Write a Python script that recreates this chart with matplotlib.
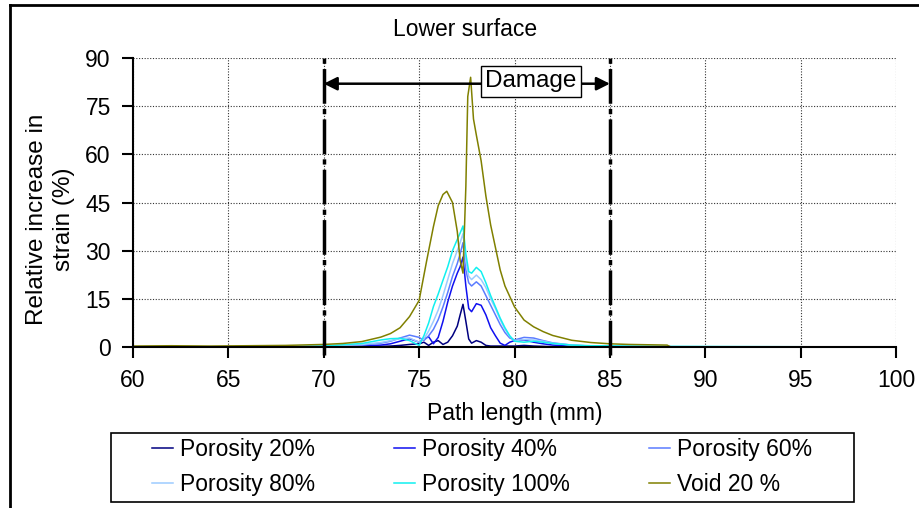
import numpy as np
import matplotlib
matplotlib.use("Agg")
import matplotlib.pyplot as plt
from matplotlib.lines import Line2D
from matplotlib.patches import Rectangle

plt.rcParams['font.family'] = ['Liberation Sans', 'DejaVu Sans']

# path length (mm) for the porosity curves
x_por = [60, 68, 70, 72, 73, 73.5, 74, 74.5, 75, 75.25, 75.5, 75.75, 76, 76.25, 76.5, 76.75,
         77, 77.15, 77.3, 77.45, 77.6, 77.75, 78, 78.25, 78.5, 78.75, 79, 79.25, 79.5, 79.75,
         80, 80.5, 81, 81.5, 82, 83, 84, 86, 88, 100]
por20 = [0, 0, 0, 0.1, 0.2, 0.3, 0.5, 0.8, 1.0, 1.5, 0.5, 1.5, 2.0, 0.8, 1.5, 3.5,
         6.5, 10, 13.3, 8, 2.5, 1.2, 2.0, 1.5, 0.5, 0.3, 0.3, 0.3, 0.3, 0.3,
         0.3, 0.5, 0.3, 0.2, 0.1, 0.1, 0, 0, 0, 0]
por40 = [0, 0, 0.1, 0.3, 0.6, 1.0, 1.8, 2.6, 1.5, 2.5, 3.2, 1.0, 3.0, 8, 14, 19,
         23, 25, 28, 19, 12, 11, 13.5, 13, 10, 6, 3.5, 1.2, 0.5, 1.5,
         2.0, 2.2, 1.5, 1.0, 0.6, 0.3, 0.1, 0, 0, 0]
por60 = [0, 0.1, 0.2, 0.6, 1.2, 1.8, 2.8, 3.7, 3.0, 2.0, 3.5, 5.5, 8.5, 12.5, 17, 22,
         26, 29, 32.5, 24, 20, 19, 20.3, 19, 16, 13, 10, 7, 4.5, 2.8,
         2.2, 3.0, 2.8, 2.0, 1.3, 0.6, 0.3, 0.1, 0, 0]
por80 = [0, 0.1, 0.3, 0.8, 1.4, 2.0, 2.6, 2.8, 1.5, 2.5, 5, 8, 11.5, 16, 21, 26,
         30, 32.5, 35.3, 27, 22, 21, 22.4, 21, 18.5, 15, 12, 8.5, 5.5, 3.3,
         2.0, 2.3, 2.2, 1.8, 1.2, 0.6, 0.3, 0.2, 0.1, 0]
por100 = [0, 0.1, 0.3, 1.1, 2.2, 2.6, 2.7, 2.0, 0.5, 3.5, 7.5, 12.6, 16.5, 20.8, 25, 30,
          33.5, 35.5, 37.7, 29, 23.5, 23, 24.8, 23.5, 20, 16, 12.5, 9, 6, 3.5,
          1.8, 1.5, 1.8, 1.5, 1.1, 0.6, 0.4, 0.3, 0.2, 0]

x_void = [60, 62, 64, 66, 68, 70, 71, 72, 73, 73.5, 74, 74.5, 75, 75.4, 75.75,
          76, 76.25, 76.45, 76.75, 77, 77.15, 77.3, 77.45, 77.55, 77.7, 77.85, 78,
          78.25, 78.5, 78.75, 79, 79.25, 79.5, 80, 80.5, 81, 81.5, 82, 83, 84, 85,
          86, 88, 88.2, 100]
void20 = [0.3, 0.4, 0.3, 0.4, 0.5, 0.8, 1.1, 1.7, 3.1, 4.2, 6.0, 9.5, 14.5, 27, 37.5,
          44, 47.5, 48.5, 45, 36, 27, 23, 50, 78, 84, 71, 66,
          58, 47, 38, 31, 24, 19, 12.5, 8.4, 6.3, 4.8, 3.6, 2.1, 1.4, 1.0,
          0.8, 0.6, 0, 0]

labels = ["Porosity 20%", "Porosity 40%", "Porosity 60%",
          "Porosity 80%", "Porosity 100%", "Void 20 %"]
colors = ["#000080", "#1010F0", "#5B7CFF", "#9CCBFF", "#10F0F0", "#808000"]
damage = [70, 85]

fig = plt.figure(figsize=(9.19, 5.08), dpi=100)
ax = fig.add_axes([0.1447, 0.3169, 0.8303, 0.5689])

series = [por20, por40, por60, por80, por100]
lines = []
for ii in range(5):
    ll, = ax.plot(x_por, series[ii], color=colors[ii], lw=1.1, label=labels[ii])
    lines.append(ll)
ll, = ax.plot(x_void, void20, color=colors[5], lw=1.1, label=labels[5])
lines.append(ll)

ax.set_xlim(60, 100)
ax.set_ylim(0, 90)
ax.set_xticks(np.arange(60, 101, 5))
ax.set_yticks(np.arange(0, 91, 15))
ax.grid(True, color="0.2", linestyle=(0, (1, 1.5)), lw=0.8)
for s in ["top", "right"]:
    ax.spines[s].set_visible(False)
for s in ["left", "bottom"]:
    ax.spines[s].set_linewidth(1.5)
ax.tick_params(direction="out", length=8, width=1.5, labelsize=16.5, pad=8)

# damage zone
for xd in damage:
    ax.plot([xd, xd], [-2.5, 91.5], color="black", lw=2.5,
            linestyle=(0, (10, 1.5, 1.5, 1.5)), clip_on=False, zorder=5)
ax.annotate("", xy=(damage[0], 82), xytext=(damage[1], 82),
            arrowprops=dict(arrowstyle="<|-|>", color="black", lw=1.8,
                            mutation_scale=20, shrinkA=0, shrinkB=0), zorder=6)
ax.text(80.85, 82.7, "Damage", fontsize=17.5, ha="center", va="center", zorder=7,
        bbox=dict(boxstyle="square,pad=0.18", fc="white", ec="black", lw=1))

fig.text(0.506, 0.941, "Lower surface", fontsize=16.5, ha="center", va="center")
ax.set_xlabel("Path length (mm)", fontsize=16.5, labelpad=7)
fig.text(0.055, 0.569, "Relative increase in\nstrain (%)", fontsize=17.5, rotation=90,
         ha="center", va="center", multialignment="center", linespacing=1.3)

# legend: row-wise order, frame drawn separately
order = [0, 3, 1, 4, 2, 5]
leg = fig.legend([lines[k] for k in order], [labels[k] for k in order],
                 loc="center left", bbox_to_anchor=(152 / 919, 1 - 467 / 508, 660 / 919, 0),
                 mode="expand", ncol=3, fontsize=16.5, handlelength=0.9,
                 handletextpad=0.3, frameon=False, borderaxespad=0,
                 labelspacing=0.5, borderpad=0)
fig.patches.append(Rectangle((111 / 919, 1 - 502 / 508), 743 / 919, 69 / 508,
                             transform=fig.transFigure, fill=False, ec="black", lw=1.2))

# outer frame (top and left edges)
fig.add_artist(Line2D([10 / 919, 1], [1 - 5 / 508, 1 - 5 / 508], color="black", lw=2))
fig.add_artist(Line2D([10 / 919, 10 / 919], [0, 1 - 5 / 508], color="black", lw=2))

plt.savefig("out.png", dpi=100)
